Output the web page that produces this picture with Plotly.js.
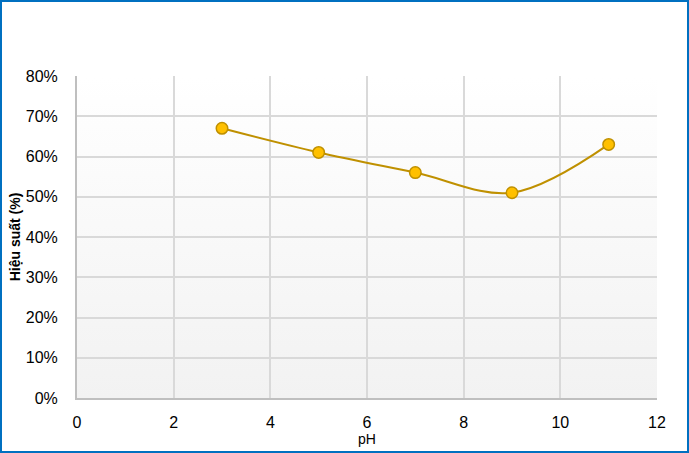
<!DOCTYPE html>
<html>
<head>
<meta charset="utf-8">
<script src="https://cdn.plot.ly/plotly-3.0.1.min.js"></script>
<style>
html,body{margin:0;padding:0;background:#fff;}
#wrap{position:relative;width:689px;height:453px;background:#fff;}
#plotbg{position:absolute;left:77px;top:76px;width:580px;height:322px;background:linear-gradient(to bottom,#ffffff 0%,#f2f2f2 100%);}
#chart{position:absolute;left:0;top:0;width:689px;height:453px;}
#frame{position:absolute;left:0;top:0;width:689px;height:453px;box-sizing:border-box;border:2.5px solid #0070C0;pointer-events:none;}
</style>
</head>
<body>
<div id="wrap"><div id="plotbg"></div><div id="chart"></div><div id="frame"></div></div>
<script>
const phValues = [3, 5, 7, 9, 11];
const efficiency = [0.67, 0.61, 0.56, 0.51, 0.63];
const xRange = [0, 12];
const yRange = [0, 0.8];
const yTitle = 'Hiệu suất (%)';
const xTitle = 'pH';

const series = {
  x: phValues, y: efficiency, type: 'scatter', mode: 'lines+markers',
  line: {color: '#BF9000', width: 2, shape: 'spline', smoothing: 1},
  marker: {size: 11.5, color: '#FFC000', line: {color: '#BF9000', width: 1.5}},
  showlegend: false
};

const font = {family: 'Liberation Sans, Arial, sans-serif', size: 16, color: '#000'};

const layout = {
  width: 689, height: 453,
  margin: {l: 77, r: 32, t: 76, b: 55},
  paper_bgcolor: 'rgba(0,0,0,0)', plot_bgcolor: 'rgba(0,0,0,0)',
  font: font,
  xaxis: {
    range: xRange, dtick: 2, tick0: 0,
    showgrid: true, gridcolor: '#d9d9d9', gridwidth: 2,
    zeroline: false, showline: true, linecolor: '#bfbfbf', linewidth: 2,
    ticks: '', ticklabelstandoff: 9, tickfont: {size: 16},
    title: {text: xTitle, font: {size: 14}, standoff: 0}
  },
  yaxis: {
    range: yRange, dtick: 0.1, tickformat: '.0%',
    showgrid: true, gridcolor: '#d9d9d9', gridwidth: 2,
    zeroline: false, showline: true, linecolor: '#bfbfbf', linewidth: 2,
    ticks: '', ticklabelstandoff: 14, tickfont: {size: 16},
    title: {text: '<b>' + yTitle + '</b>', font: {size: 14}, standoff: 2}
  }
};

Plotly.newPlot('chart', [series], layout, {displayModeBar: false, staticPlot: true});
</script>
</body>
</html>
